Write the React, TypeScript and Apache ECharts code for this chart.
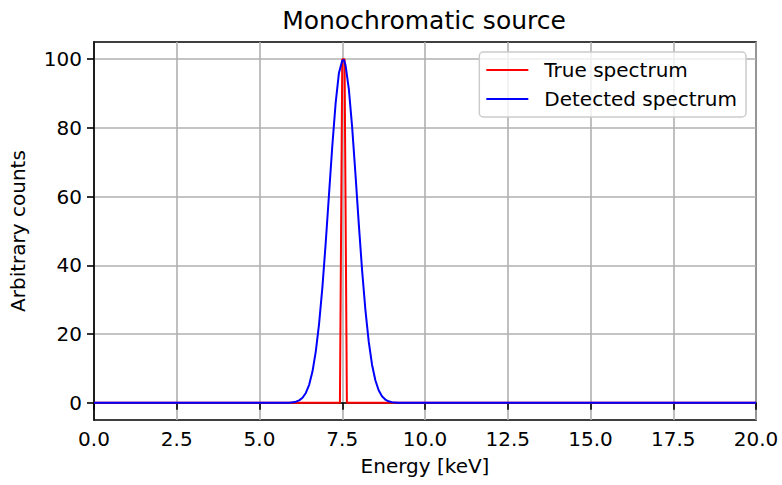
import React, { useEffect, useRef } from "react";
import * as echarts from "echarts";

const title = "Monochromatic source";
const xLabel = "Energy [keV]";
const yLabel = "Arbitrary counts";
const seriesNames = ["True spectrum", "Detected spectrum"];

const trueX = [0, 7.43, 7.5, 7.57, 7.64, 20];
const trueY = [0, 0, 100, 100, 0, 0];

const detX = [0, 5.9, 6.0, 6.1, 6.2, 6.3, 6.4, 6.5, 6.6, 6.7, 6.8, 6.9, 7.0, 7.1, 7.2, 7.3, 7.4, 7.5, 7.55, 7.6, 7.7, 7.8, 7.9, 8.0, 8.1, 8.2, 8.3, 8.4, 8.5, 8.6, 8.7, 8.8, 8.9, 9.0, 9.2, 10, 20];
const detY = [0, 0.05, 0.14, 0.33, 0.72, 1.47, 2.86, 5.24, 9.08, 14.9, 23.0, 33.6, 46.5, 60.7, 74.8, 87.2, 96.0, 99.6, 99.8, 98.2, 91.2, 80.1, 66.4, 52.0, 38.5, 27.0, 17.8, 11.1, 6.57, 3.67, 1.93, 0.96, 0.45, 0.2, 0.04, 0, 0];

const yTicks = [0, 20, 40, 60, 80, 100];

const FONT = "DejaVu Sans";
const LINE_ICON = "path://M0,0 L42,0 L42,2 L0,2 Z";

export default function App() {
  const ref = useRef<HTMLDivElement>(null);
  useEffect(() => {
    if (!ref.current) return;
    document.body.style.margin = "0";
    const chart = echarts.init(ref.current, null, { renderer: "svg" });
    const trueData = trueX.map((x, i) => [x, trueY[i]]);
    const detData = detX.map((x, i) => [x, detY[i]]);
    chart.setOption({
      animation: false,
      backgroundColor: "#fff",
      graphic: [
        {
          type: "text",
          x: 424,
          y: 20,
          style: {
            text: title,
            fill: "#000",
            font: `25px "${FONT}"`,
            align: "center",
            verticalAlign: "middle",
          },
        },
      ],
      grid: {
        left: 92,
        right: 26,
        top: 42,
        bottom: 65,
        show: true,
        borderColor: "#000",
        borderWidth: 1.6,
        backgroundColor: "transparent",
      },
      legend: {
        orient: "vertical",
        right: 36,
        top: 52,
        z: 20,
        padding: [8, 9, 8, 7],
        itemWidth: 42,
        itemHeight: 20,
        itemGap: 9,
        icon: LINE_ICON,
        backgroundColor: "rgba(255,255,255,0.8)",
        borderColor: "#cccccc",
        borderWidth: 1.5,
        borderRadius: 4,
        textStyle: {
          fontFamily: FONT,
          fontSize: 20,
          color: "#000",
          padding: [0, 0, 0, 11],
        },
        data: seriesNames,
      },
      xAxis: {
        type: "value",
        min: 0,
        max: 20,
        interval: 2.5,
        name: xLabel,
        nameLocation: "middle",
        nameGap: 36,
        nameTextStyle: { fontFamily: FONT, fontSize: 20, color: "#000" },
        axisLine: { show: true, lineStyle: { color: "#000", width: 1.6 } },
        axisTick: { show: true, inside: false, length: 7, lineStyle: { color: "#000", width: 1.6 } },
        axisLabel: {
          fontFamily: FONT,
          fontSize: 20,
          color: "#000",
          margin: 9,
          formatter: (v: number) => v.toFixed(1),
        },
        splitLine: { show: true, lineStyle: { color: "#b0b0b0", width: 1.6 } },
      },
      yAxis: {
        type: "value",
        min: -5,
        max: 105,
        name: yLabel,
        nameLocation: "middle",
        nameGap: 66,
        nameTextStyle: { fontFamily: FONT, fontSize: 20, color: "#000" },
        axisLine: { show: true, lineStyle: { color: "#000", width: 1.6 } },
        axisTick: {
          show: true,
          inside: false,
          length: 7,
          customValues: yTicks,
          lineStyle: { color: "#000", width: 1.6 },
        },
        axisLabel: {
          fontFamily: FONT,
          fontSize: 20,
          color: "#000",
          margin: 12,
          customValues: yTicks,
        },
        splitLine: { show: false },
      },
      series: [
        {
          name: "__grid",
          type: "line",
          data: [],
          z: 0,
          silent: true,
          markLine: {
            z: 0,
            silent: true,
            symbol: "none",
            label: { show: false },
            lineStyle: { color: "#b0b0b0", width: 1.6, type: "solid" },
            data: yTicks.map((v) => ({ yAxis: v })),
          },
        },
        {
          name: seriesNames[0],
          type: "line",
          data: trueData,
          symbol: "none",
          z: 10,
          color: "#ff0000",
          lineStyle: { color: "#ff0000", width: 2 },
        },
        {
          name: seriesNames[1],
          type: "line",
          data: detData,
          symbol: "none",
          z: 11,
          color: "#0000ff",
          lineStyle: { color: "#0000ff", width: 2 },
        },
      ],
    });
    return () => chart.dispose();
  }, []);
  return <div ref={ref} style={{ position: "absolute", left: 0, top: 0, width: 782, height: 485 }} />;
}
